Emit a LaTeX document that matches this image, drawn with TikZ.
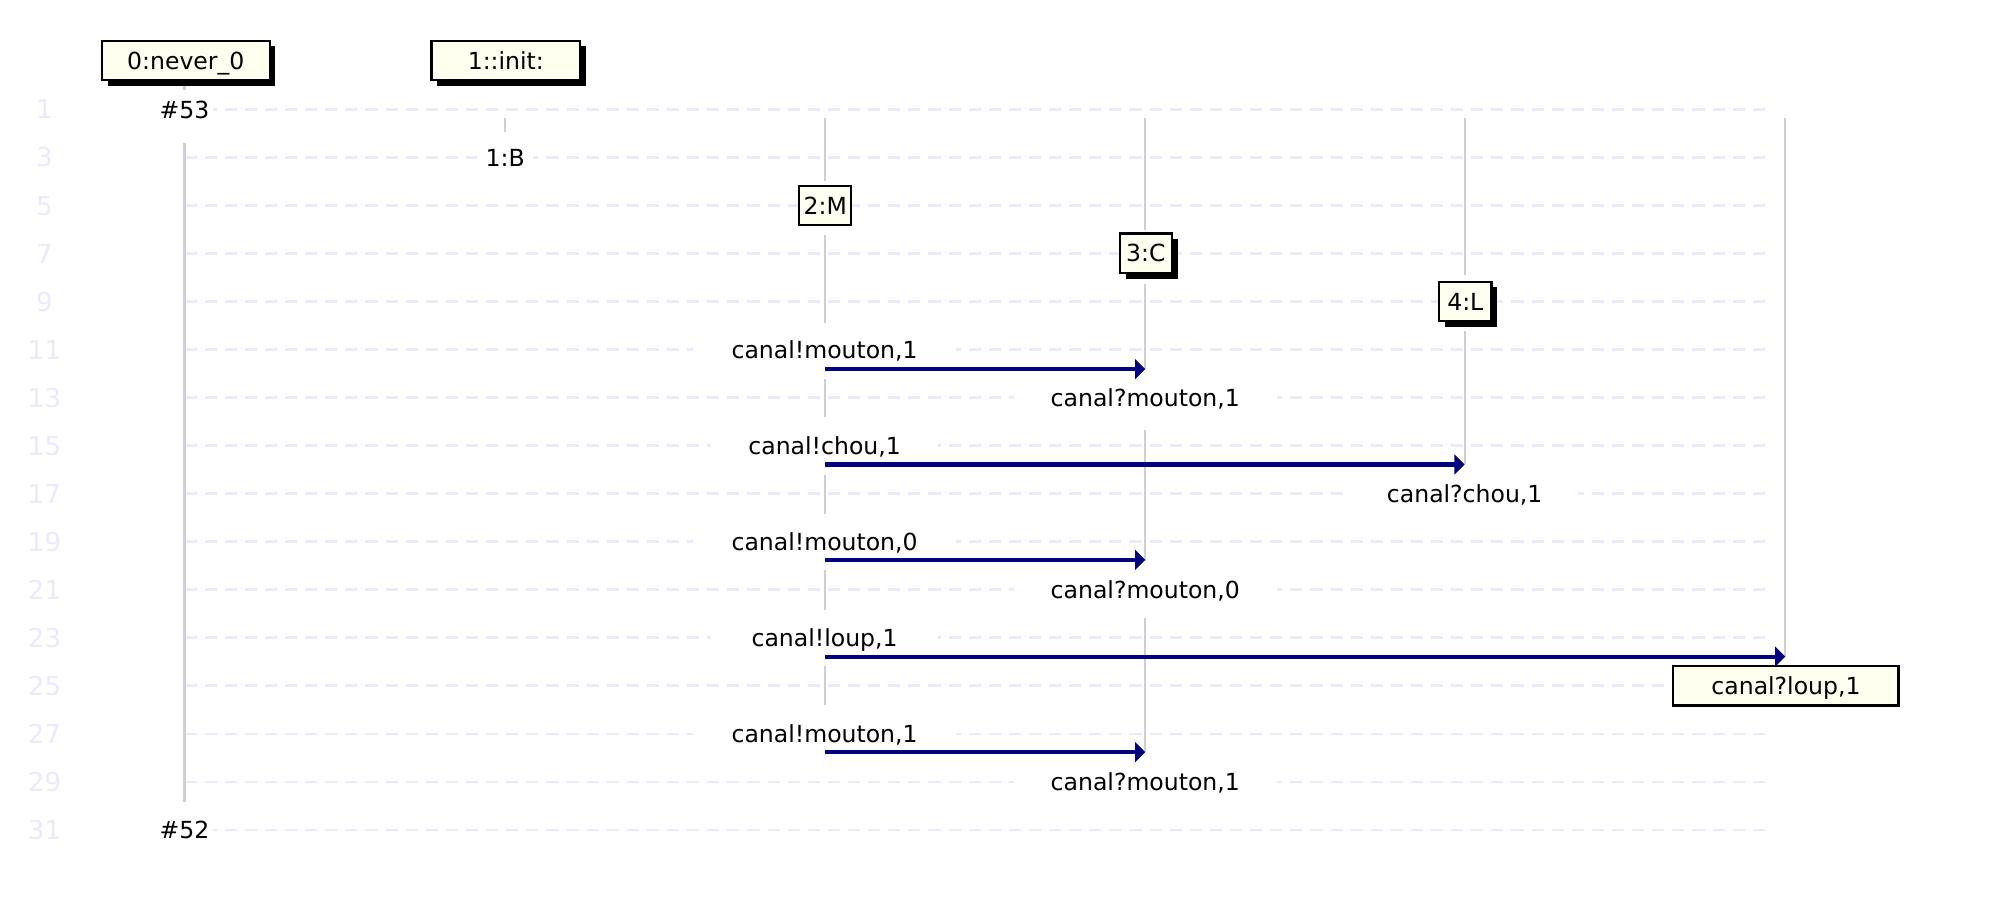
\documentclass[tikz,border=0pt]{standalone}
\usepackage{fontspec}
\setmainfont{DejaVu Sans}
\usetikzlibrary{arrows.meta,shadows}
\definecolor{gridc}{HTML}{EAEAFB}
\definecolor{rownum}{HTML}{EAEAFE}
\definecolor{life}{HTML}{CFCFCF}
\definecolor{boxfill}{HTML}{FFFFF0}
\definecolor{msgc}{HTML}{000080}
\begin{document}
\begin{tikzpicture}[x=1pt,y=-1pt,
  every node/.style={font=\fontsize{18.5}{22}\selectfont, inner sep=0pt, text height=13.5pt, text depth=0pt},
  gridline/.style={draw=gridc, line width=1.7pt, dash pattern=on 9.5pt off 6.3pt},
  rowlab/.style={text=rownum, font=\fontsize{20.5}{24}\selectfont, text height=15pt},
  lifeline/.style={draw=life, line width=1.6pt},
  evlabel/.style={fill=white, minimum height=24pt},
  procbox/.style={draw=black, line width=1.8pt, fill=boxfill, minimum height=31pt},
  shadowed/.style={drop shadow={shadow xshift=4.5pt, shadow yshift=-4.5pt, opacity=1, fill=black}},
  msg/.style={draw=msgc, line width=3.2pt, -{Triangle[length=8pt,width=15.5pt]}}
]
\fill[white] (0,0) rectangle (1567,710.4);
\useasboundingbox (0,0) rectangle (1567,710.4);

% grid rows
\foreach \k in {0,...,15}{
  \pgfmathsetmacro\yy{86+\k*37.73}
  \pgfmathtruncatemacro\rn{2*\k+1}
  \node[rowlab] (row\rn) at (35,\yy) {\rn};
  \draw[gridline] (145,\yy) -- (1392,\yy);
}

% lifelines
\draw[lifeline] (145,63) -- (145,71);
\draw[lifeline] (145,112) -- (145,630);
\draw[lifeline] (397,93) -- (397,104);
\foreach \a/\b in {93/142,185/254,298/328,373/404,448/479,523/554}
  \draw[lifeline] (648,\a) -- (648,\b);
\foreach \a/\b in {93/181,223/290,338/441,486/591}
  \draw[lifeline] (900,\a) -- (900,\b);
\foreach \a/\b in {93/216,260/365}
  \draw[lifeline] (1151,\a) -- (1151,\b);
\draw[lifeline] (1403,93) -- (1403,516);

% process headers
\node[procbox, shadowed, minimum width=132pt] (p0) at (146,47.5) {0:never\_0};
\node[procbox, shadowed, minimum width=117pt] (p1) at (397.5,47.5) {1::init:};
\node[evlabel, minimum width=44pt] (e53) at (145,86) {\#53};
\node[evlabel, minimum width=44pt] (e52) at (145,652) {\#52};
\node[evlabel, minimum width=44pt] (b1) at (397,123.7) {1:B};
\node[procbox, minimum width=41pt] (m2) at (648.5,161.5) {2:M};
\node[procbox, shadowed, minimum width=41pt] (c3) at (900.5,199) {3:C};
\node[procbox, shadowed, minimum width=41pt] (l4) at (1151.5,236.9) {4:L};

% send labels
\node[evlabel, minimum width=207pt] (s1) at (648,274.6) {canal!mouton,1};
\node[evlabel, minimum width=178pt] (s2) at (648,350.1) {canal!chou,1};
\node[evlabel, minimum width=207pt] (s3) at (648,425.6) {canal!mouton,0};
\node[evlabel, minimum width=178pt] (s4) at (648,501) {canal!loup,1};
\node[evlabel, minimum width=207pt] (s5) at (648,576.5) {canal!mouton,1};
% receive labels
\node[evlabel, minimum width=207pt] (r1) at (900,312.4) {canal?mouton,1};
\node[evlabel, minimum width=178pt] (r2) at (1151,387.8) {canal?chou,1};
\node[evlabel, minimum width=207pt] (r3) at (900,463.3) {canal?mouton,0};
\node[procbox, minimum width=177pt] (r4) at (1403.5,538.8) {canal?loup,1};
\node[evlabel, minimum width=207pt] (r5) at (900,614.2) {canal?mouton,1};

% message arrows
\coordinate (a1) at (648,290);  \coordinate (b1e) at (900,290);
\coordinate (a2) at (648,365);  \coordinate (b2e) at (1151,365);
\coordinate (a3) at (648,440);  \coordinate (b3e) at (900,440);
\coordinate (a4) at (648,516);  \coordinate (b4e) at (1403,516);
\coordinate (a5) at (648,591);  \coordinate (b5e) at (900,591);
\draw[msg] (a1) -- (b1e);
\draw[msg] (a2) -- (b2e);
\draw[msg] (a3) -- (b3e);
\draw[msg] (a4) -- (b4e);
\draw[msg] (a5) -- (b5e);
\end{tikzpicture}
\end{document}
